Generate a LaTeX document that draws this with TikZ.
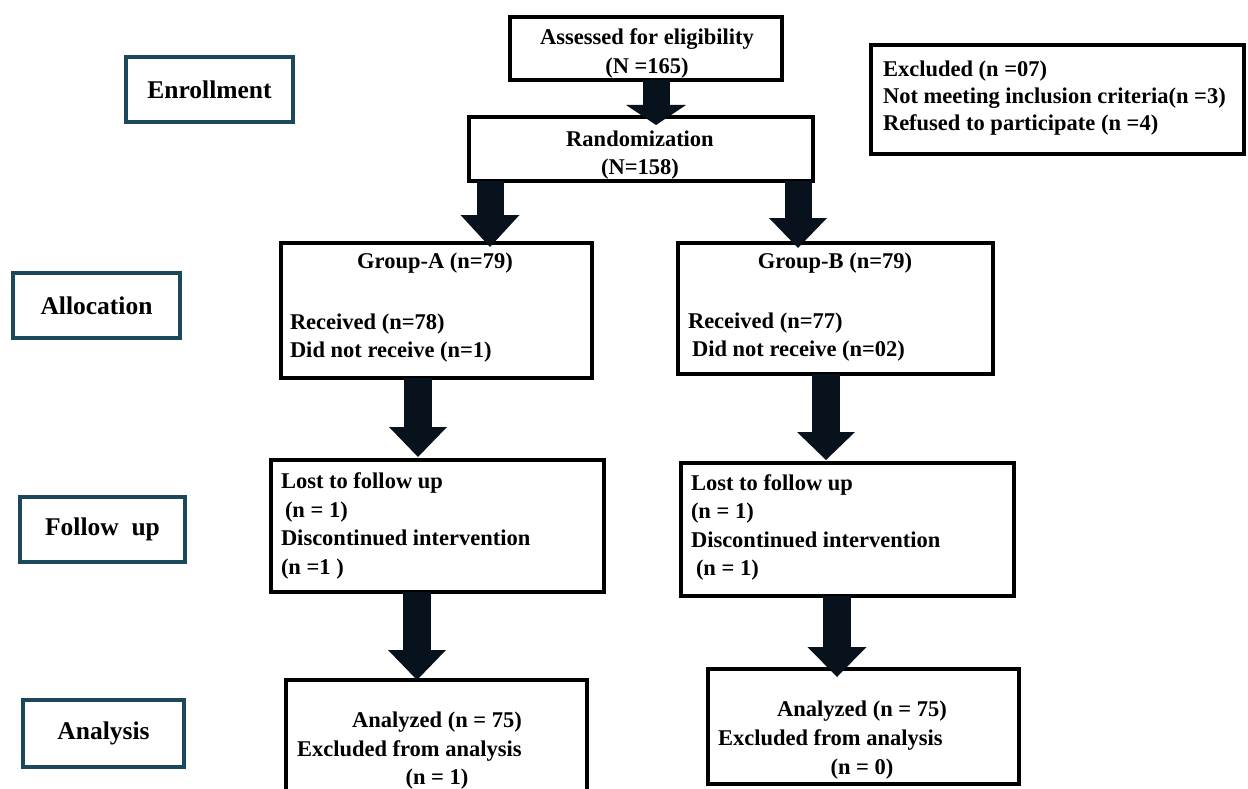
\documentclass[tikz,border=0pt]{standalone}
\usepackage{fontspec}
\setmainfont{Liberation Serif}
\usetikzlibrary{arrows.meta}
\definecolor{tealb}{RGB}{28,72,92}
\definecolor{arrowc}{RGB}{8,18,28}
\begin{document}
\begin{tikzpicture}[x=1pt,y=-1pt,
  phase/.style={draw=tealb, line width=4pt, inner sep=0pt, outer sep=0pt, font=\fontsize{25.5}{30}\selectfont\bfseries},
  flowbox/.style={draw=black, line width=4.5pt, inner sep=0pt, outer sep=0pt},
  txt/.style={inner sep=0pt, outer sep=0pt, font=\fontsize{22.5}{28.5}\selectfont\bfseries, align=left},
  barr/.style n args={4}{draw=arrowc, line width=#1, arrows={-{Triangle[width=#2 0,length=#3 0,line width=0pt 0]}}, shorten >=#4}]
\useasboundingbox (0,0) rectangle (1248,789);
\clip (0,0) rectangle (1248,789);
% phase labels
\node[phase, minimum width=167pt, minimum height=65pt] (enr) at (209.5,89.5) {Enrollment};
\node[phase, minimum width=167pt, minimum height=65pt] (alloc) at (96.5,305.5) {Allocation};
\node[phase, minimum width=165pt, minimum height=65pt] (fol) at (102.5,529.5) {Follow\ \ up};
\node[phase, minimum width=161pt, minimum height=67pt] (anl) at (103.5,733.5) {Analysis};
% boxes
\node[flowbox, minimum width=272pt, minimum height=63pt] (ass) at (646,48.5) {};
\node[txt, align=center] (assT) at (647,53.5) {Assessed for eligibility\\(N =165)};
\node[flowbox, minimum width=344pt, minimum height=64pt] (rnd) at (641,149) {};
\node[txt, align=center] (rndT) at (640,155) {Randomization\\(N=158)};
\node[flowbox, minimum width=373pt, minimum height=109pt] (exc) at (1057.5,99.5) {};
\node[txt, anchor=west, font=\fontsize{22.5}{27}\selectfont\bfseries] (excT) at (883,98) {Excluded (n =07)\\Not meeting inclusion criteria(n =3)\\Refused to participate (n =4)};
\node[flowbox, minimum width=311pt, minimum height=135pt] (ga) at (436.5,310.5) {};
\node[txt] (gaT1) at (435,263) {Group-A (n=79)};
\node[txt, anchor=west] (gaT2) at (290,338) {Received (n=78)\\Did not receive (n=1)};
\node[flowbox, minimum width=315pt, minimum height=131pt] (gb) at (835.5,308.5) {};
\node[txt] (gbT1) at (835,263) {Group-B (n=79)};
\node[txt, anchor=west] (gbT2) at (688,337) {Received (n=77)\\\hspace*{4pt}Did not receive (n=02)};
\node[flowbox, minimum width=333pt, minimum height=132pt] (la) at (437.5,526) {};
\node[txt, anchor=west] (laT) at (281,526) {Lost to follow up\\\hspace*{4pt}(n = 1)\\Discontinued intervention\\(n =1\ )};
\node[flowbox, minimum width=333pt, minimum height=133pt] (lb) at (847.5,529.5) {};
\node[txt, anchor=west] (lbT) at (691,527.5) {Lost to follow up\\(n = 1)\\Discontinued intervention\\\hspace*{5pt}(n = 1)};
\node[flowbox, minimum width=301pt, minimum height=140pt] (aa) at (436.5,750) {};
\node[txt] (aaT1) at (437,722) {Analyzed (n = 75)};
\node[txt, anchor=west] (aaT2) at (297,751) {Excluded from analysis};
\node[txt] (aaT3) at (437,779) {(n = 1)};
\node[flowbox, minimum width=311pt, minimum height=115pt] (ab) at (863.5,726.5) {};
\node[txt] (abT1) at (862,711) {Analyzed (n = 75)};
\node[txt, anchor=west] (abT2) at (718,740) {Excluded from analysis};
\node[txt] (abT3) at (862,769) {(n = 0)};
% arrow axes
\coordinate (x1) at (656,0);
\coordinate (x2) at (490,0);
\coordinate (x3) at (798,0);
\coordinate (x4) at (418,0);
\coordinate (x5) at (826,0);
\coordinate (x6) at (417,0);
\coordinate (x7) at (837,0);
% block arrows
\draw[barr={27pt}{60pt}{20pt}{-8pt}] (ass.south -| x1) -- (rnd.north -| x1);
\draw[barr={27pt}{59pt}{32pt}{-4pt}] (rnd.south -| x2) -- (ga.north -| x2);
\draw[barr={27pt}{58pt}{30pt}{-5pt}] (rnd.south -| x3) -- (gb.north -| x3);
\draw[barr={28pt}{58pt}{30pt}{3pt}] (ga.south -| x4) -- (la.north -| x4);
\draw[barr={28pt}{58pt}{28pt}{3pt}] (gb.south -| x5) -- (lb.north -| x5);
\draw[barr={28pt}{58pt}{30pt}{0pt}] (la.south -| x6) -- (aa.north -| x6);
\draw[barr={28pt}{59pt}{30pt}{-8pt}] (lb.south -| x7) -- (ab.north -| x7);
\end{tikzpicture}
\end{document}
